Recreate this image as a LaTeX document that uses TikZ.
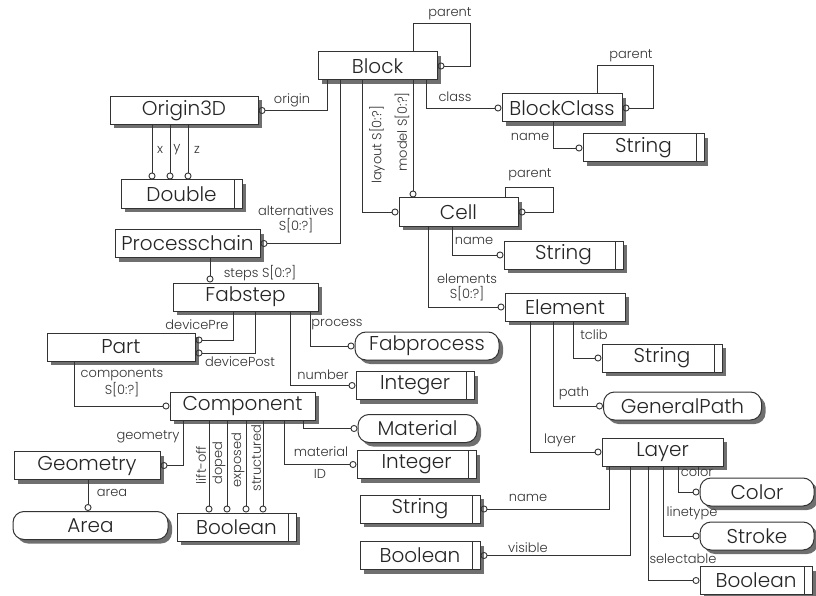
\documentclass[tikz,border=0pt]{standalone}
\usepackage{fontspec}
\setmainfont{Poppins Light}
\usetikzlibrary{arrows.meta,shadows}
\begin{document}
\begin{tikzpicture}[x=1pt,y=-1pt,
  box/.style={draw=black!80, line width=1pt, fill=white, minimum height=28pt, inner sep=0pt,
    text=black!85, font=\fontsize{20}{21}\selectfont,
    drop shadow={shadow xshift=4pt, shadow yshift=-4pt, fill=black!75, opacity=0.75}},
  cls/.style={box},
  typ/.style={box, path picture={\draw[line width=1pt,black!80] ([xshift=-8pt]path picture bounding box.north east) -- ([xshift=-8pt]path picture bounding box.south east);}},
  rnd/.style={box, rounded corners=11pt},
  lbl/.style={font=\fontsize{13}{15}\selectfont, inner sep=0pt, text=black!80, align=center},
  rel/.style={draw=black!80, line width=0.9pt, -{Circle[open,length=7pt,width=7pt,line width=0.9pt]}},
]
\useasboundingbox (0,0) rectangle (816,596);
\fill[white] (0,0) rectangle (816,596);

% nodes
\node[cls, minimum width=119pt] (block) at (377.5,66) {Block};
\node[cls, minimum width=148pt] (origin) at (184,110.5) {Origin3D};
\node[typ, minimum width=121pt] (dbl) at (181.5,194) {Double};
\node[cls, minimum width=120pt] (bclass) at (562,108) {BlockClass};
\node[typ, minimum width=121pt] (strA) at (643.5,148) {String};
\node[cls, minimum width=119pt] (cell) at (458.5,212) {Cell};
\node[cls, minimum width=145pt] (proc) at (187.5,243.5) {Processchain};
\node[typ, minimum width=119pt] (strB) at (563.5,255) {String};
\node[cls, minimum width=145pt] (fab) at (245.5,297) {Fabstep};
\node[cls, minimum width=120pt] (elem) at (565,307) {Element};
\node[cls, minimum width=148pt] (part) at (121,347) {Part};
\node[rnd, minimum width=144pt] (fproc) at (427,346) {Fabprocess};
\node[typ, minimum width=120pt] (strC) at (662,358) {String};
\node[typ, minimum width=118pt] (intA) at (415,385.5) {Integer};
\node[cls, minimum width=145pt] (comp) at (242.5,406) {Component};
\node[rnd, minimum width=158pt] (gpath) at (682.5,406) {GeneralPath};
\node[rnd, minimum width=119pt] (mat) at (417.5,428.5) {Material};
\node[cls, minimum width=121pt] (layer) at (662.5,452) {Layer};
\node[typ, minimum width=119pt] (intB) at (416.5,464.5) {Integer};
\node[cls, minimum width=146pt] (geom) at (87,465.5) {Geometry};
\node[lbl] at (697,472) {color};
\node[rnd, minimum width=114pt] (color) at (757,492) {Color};
\node[rnd, minimum width=114pt] (stroke) at (757,536) {Stroke};
\node[typ, minimum width=112pt] (boolC) at (756,580.5) {Boolean};
\node[rnd, minimum width=155pt] (area) at (90.5,525.5) {Area};
\node[typ, minimum width=119pt] (boolA) at (236.5,527) {Boolean};
\node[typ, minimum width=120pt] (strD) at (420,509) {String};
\node[typ, minimum width=120pt] (boolB) at (420,555.5) {Boolean};

% connectors
\draw[rel] (block.north -| 413,0) |- (470,23) |- (block.east);
\draw[rel] (block.south -| 327,0) |- (origin.east);
\draw[rel] (origin.south -| 152,0) -- (dbl.north -| 152,0);
\draw[rel] (origin.south -| 170,0) -- (dbl.north -| 170,0);
\draw[rel] (origin.south -| 188,0) -- (dbl.north -| 188,0);
\draw[rel] (block.south -| 426,0) |- (bclass.west);
\draw[rel] (bclass.north -| 597,0) |- (653,65) |- (bclass.east);
\draw[rel] (bclass.south -| 553,0) |- (strA.west);
\draw[rel] (block.south -| 362,0) |- (cell.west);
\draw[rel] (block.south -| 413,0) -- (cell.north -| 413,0);
\draw[rel] (block.south -| 340,0) |- (proc.east);
\draw[rel] (proc.south -| 210,0) -- (fab.north -| 210,0);
\draw[rel] (fab.south -| 233,0) |- ([yshift=7pt]part.east);
\draw[rel] (fab.south -| 255,0) |- ([yshift=-6pt]part.east);
\draw[rel] (fab.south -| 310,0) |- (fproc.west);
\draw[rel] (fab.south -| 290,0) |- (intA.west);
\draw[rel] (part.south -| 74,0) |- (comp.west);
\draw[rel] (comp.south -| 303,0) |- (mat.west);
\draw[rel] (comp.south -| 284,0) |- (intB.west);
\draw[rel] (comp.south -| 183,0) |- (geom.east);
\draw[rel] (geom.south -| 88,0) -- (area.north -| 88,0);
\draw[rel] (comp.south -| 209,0) -- (boolA.north -| 209,0);
\draw[rel] (comp.south -| 227,0) -- (boolA.north -| 227,0);
\draw[rel] (comp.south -| 246,0) -- (boolA.north -| 246,0);
\draw[rel] (comp.south -| 263,0) -- (boolA.north -| 263,0);
\draw[rel] (cell.north -| 505,0) |- (553,187) |- (cell.east);
\draw[rel] (cell.south -| 452,0) |- (strB.west);
\draw[rel] (cell.south -| 428,0) |- (elem.west);
\draw[rel] (elem.south -| 573,0) |- (strC.west);
\draw[rel] (elem.south -| 553,0) |- (gpath.west);
\draw[rel] (elem.south -| 530,0) |- (layer.west);
\draw[rel] (layer.south -| 678,0) |- (color.west);
\draw[rel] (layer.south -| 663,0) |- (stroke.west);
\draw[rel] (layer.south -| 648,0) |- (boolC.west);
\draw[rel] (layer.south -| 609,0) |- (strD.east);
\draw[rel] (layer.south -| 630,0) |- (boolB.east);

% labels
\node[lbl] at (450,14) {parent};
\node[lbl] at (292,100) {origin};
\node[lbl] at (160,150) {x};
\node[lbl] at (177,150) {y};
\node[lbl] at (197,150) {z};
\node[lbl] at (455,97) {class};
\node[lbl] at (631,56) {parent};
\node[lbl] at (530,137) {name};
\node[lbl, rotate=90] at (377,145) {layout S[0:?]};
\node[lbl, rotate=90] at (402,132) {model S[0:?]};
\node[lbl] at (296,219) {alternatives\\S[0:?]};
\node[lbl] at (530,175) {parent};
\node[lbl] at (260,273) {steps S[0:?]};
\node[lbl] at (474,241) {name};
\node[lbl] at (467,287) {elements\\S[0:?]};
\node[lbl] at (197,325) {devicePre};
\node[lbl] at (240,362) {devicePost};
\node[lbl] at (337,325) {process};
\node[lbl] at (323,375) {number};
\node[lbl] at (122,383) {components\\S[0:?]};
\node[lbl] at (148,437) {geometry};
\node[lbl] at (112,493) {area};
\node[lbl, rotate=90] at (201,465) {lift-off};
\node[lbl, rotate=90] at (219,463) {doped};
\node[lbl, rotate=90] at (238,460) {exposed};
\node[lbl, rotate=90] at (256,458) {structured};
\node[lbl] at (321,452) {material};
\node[lbl] at (320,474) {ID};
\node[lbl] at (594,335) {tclib};
\node[lbl] at (574,393) {path};
\node[lbl] at (560,440) {layer};
\node[lbl] at (692,513) {linetype};
\node[lbl] at (683,559) {selectable};
\node[lbl] at (528,498) {name};
\node[lbl] at (528,548) {visible};
\end{tikzpicture}
\end{document}
